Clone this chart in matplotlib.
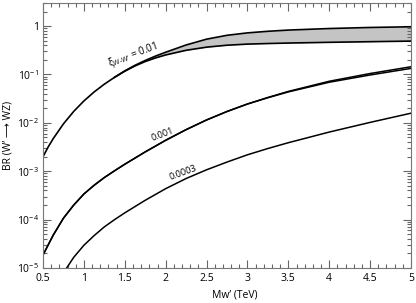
import numpy as np
import matplotlib
matplotlib.use("Agg")
import matplotlib.pyplot as plt
from matplotlib.ticker import MultipleLocator, LogLocator, NullFormatter, FixedLocator, FixedFormatter

# --- data (log10 of BR) ---
m_low = [0.5, 0.5625, 0.625, 0.75, 0.875, 1.0, 1.125, 1.25, 1.375, 1.5, 1.625, 1.75, 1.875, 2.0,
         2.25, 2.5, 2.75, 3.0, 3.25, 3.5, 4.0, 4.5, 5.0]
logbr_low = [-2.70, -2.50, -2.325, -2.02, -1.764, -1.547, -1.361, -1.20, -1.058, -0.932, -0.823,
             -0.732, -0.658, -0.596, -0.50, -0.435, -0.395, -0.372, -0.36, -0.35, -0.335, -0.322, -0.31]
m_up = [1.375, 1.5, 1.625, 1.75, 1.875, 2.0, 2.25, 2.5, 2.75, 3.0, 3.25, 3.5, 4.0, 4.5, 5.0]
logbr_up = [-1.058, -0.925, -0.81, -0.71, -0.62, -0.54, -0.39, -0.27, -0.19, -0.14, -0.107,
            -0.082, -0.05, -0.028, -0.014]

m_b = [0.5, 0.625, 0.75, 0.875, 1.0, 1.125, 1.25, 1.375, 1.5, 1.75, 2.0, 2.25, 2.5, 2.75,
       3.0, 3.25, 3.5, 4.0, 4.5, 5.0]
logbr_b1 = [-4.73, -4.32, -3.97, -3.70, -3.47, -3.29, -3.13, -2.99, -2.855, -2.60, -2.36, -2.14,
            -1.94, -1.765, -1.61, -1.475, -1.35, -1.14, -0.98, -0.84]
logbr_b2 = [-4.73, -4.32, -3.97, -3.70, -3.47, -3.29, -3.13, -2.99, -2.855, -2.60, -2.36, -2.14,
            -1.94, -1.765, -1.61, -1.48, -1.36, -1.16, -1.01, -0.874]

m_c = [0.75, 0.875, 1.0, 1.125, 1.25, 1.375, 1.5, 1.75, 2.0, 2.25, 2.5, 2.75, 3.0, 3.25, 3.5,
       4.0, 4.5, 5.0]
logbr_c = [-5.10, -4.78, -4.53, -4.33, -4.15, -4.0, -3.86, -3.60, -3.36, -3.15, -2.97, -2.81,
           -2.66, -2.53, -2.41, -2.19, -1.99, -1.80]

xticks = [0.5, 1, 1.5, 2, 2.5, 3, 3.5, 4, 4.5, 5]
xticklabels = ["0.5", "1", "1.5", "2", "2.5", "3", "3.5", "4", "4.5", "5"]
yticks = [1e-5, 1e-4, 1e-3, 1e-2, 1e-1, 1]
yticklabels = [r"10$^{-5}$", r"10$^{-4}$", r"10$^{-3}$", r"10$^{-2}$", r"10$^{-1}$", "1"]

plt.rcParams['font.family'] = ['Open Sans', 'DejaVu Sans']
plt.rcParams['mathtext.fontset'] = 'custom'
plt.rcParams['mathtext.rm'] = 'Open Sans'
plt.rcParams['mathtext.it'] = 'Open Sans'
plt.rcParams['mathtext.bf'] = 'Open Sans:bold'

fig = plt.figure(figsize=(4.16, 3.03), dpi=100)
ax = fig.add_axes([0.1034, 0.1155, 0.8846, 0.8745])

br_low = 10 ** np.array(logbr_low)
br_up = 10 ** np.array(logbr_up)
low_on_band = np.interp(m_up, m_low, br_low)
ax.fill_between(m_up, low_on_band, br_up, color="#c4c4c4", lw=0)
ax.plot(m_low, br_low, color="black", lw=1.2)
ax.plot(m_up, br_up, color="black", lw=1.2)
ax.plot(m_b, 10 ** np.array(logbr_b1), color="black", lw=1.1)
ax.plot(m_b, 10 ** np.array(logbr_b2), color="black", lw=1.1)
ax.plot(m_c, 10 ** np.array(logbr_c), color="black", lw=1.1)

ax.set_yscale("log")
ax.set_xlim(0.5, 5)
ax.set_ylim(1e-5, 3)

ax.xaxis.set_major_locator(FixedLocator(xticks))
ax.xaxis.set_major_formatter(FixedFormatter(xticklabels))
ax.xaxis.set_minor_locator(MultipleLocator(0.1))
ax.yaxis.set_major_locator(FixedLocator(yticks))
ax.yaxis.set_major_formatter(FixedFormatter(yticklabels))
ax.yaxis.set_minor_locator(LogLocator(base=10, subs=np.arange(2, 10), numticks=20))
ax.yaxis.set_minor_formatter(NullFormatter())

ax.tick_params(which="both", direction="in", top=True, right=True, labelsize=7.5,
               colors="#666666", labelcolor="black", width=0.8)
ax.tick_params(which="major", length=6)
ax.tick_params(which="minor", length=3)
ax.tick_params(axis="y", pad=3)
for s in ax.spines.values():
    s.set_color("#777777")
    s.set_linewidth(0.8)

ax.set_xlabel("Mw\u2019 (TeV)", fontsize=7.5)
ax.xaxis.set_label_coords(0.52, -0.10)
ax.xaxis.label.set_va("center")
ax.set_ylabel("BR (W\u2019 \u27f6 WZ)", fontsize=7.5)
ax.yaxis.set_label_coords(-0.095, 0.5)
ax.yaxis.label.set_va("center")

ax.text(1.60, 0.255, "$\\xi_{\\mathrm{W\\text{-}W\u2019}}$ = 0.01", fontsize=7.2, rotation=20,
        ha="center", va="center")
ax.text(1.96, 5.7e-3, "0.001", fontsize=6.5, rotation=21, ha="center", va="center")
ax.text(2.218, 9.5e-4, "0.0003", fontsize=6.5, rotation=20, ha="center", va="center")

fig.savefig("out.png", dpi=100)
